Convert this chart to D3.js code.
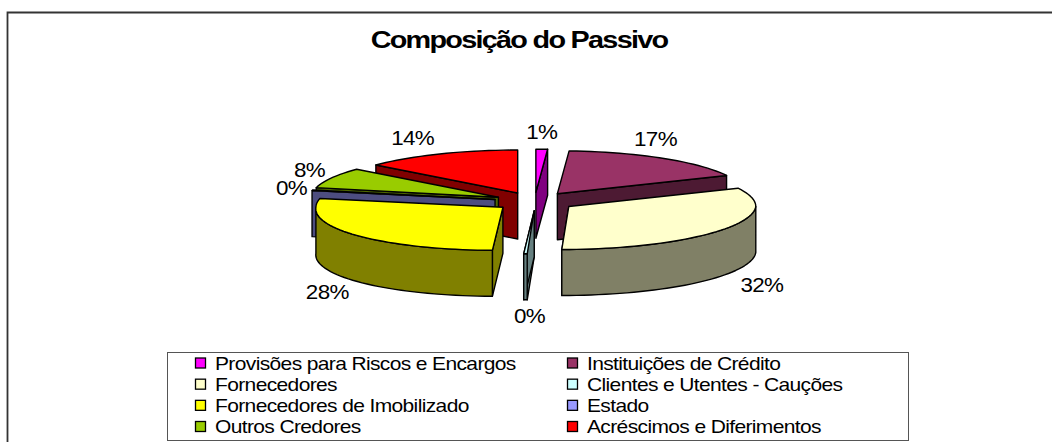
<!DOCTYPE html>
<html><head><meta charset="utf-8">
<script src="https://cdn.jsdelivr.net/npm/d3@7/dist/d3.min.js"></script>
<style>html,body{margin:0;padding:0;background:#fff}svg{display:block}text{font-family:"Liberation Sans",Arial,sans-serif;fill:#000}</style>
</head><body><svg id="c" width="1052" height="442"></svg>
<script>
const titleText = "Composição do Passivo";
const categories = ["Provisões para Riscos e Encargos","Instituições de Crédito","Fornecedores","Clientes e Utentes - Cauções","Fornecedores de Imobilizado","Estado","Outros Credores","Acréscimos e Diferimentos"];
const values = [1.0,17.0,32.0,0.3,28.0,0.3,7.7,13.7];
const labels = ["1%","17%","32%","0%","28%","0%","8%","14%"];
const topColors = ["#ff00ff","#993366","#ffffcc","#ccffff","#ffff00","#9999ff","#99cc00","#ff0000"];
const drawOrder = [7,0,1,6,5,4,3,2];
// layout only
const W=1052,H=442,cx=534.6,cy=201.5,rx=187,ry=43,depth=46,explode=0.2166,shear=7;
const labelNudge=[[0,-15],[-7,-18],[39,11],[4,18],[-25,14],[-21,-1],[-22,-6],[-27,-14]];

const svg=d3.select("#c");
svg.append("path").attr("d",`M7.5 442V12.5H1052`).attr("fill","none").attr("stroke","#333").attr("stroke-width",1.8);
svg.append("text").attr("transform","translate(519,48) scale(1.2,1)").attr("text-anchor","middle").attr("font-size",24).attr("font-weight","bold").attr("letter-spacing",-1.43).text(titleText);

const arcs=d3.pie().value(d=>d).sort(null)(values);
const darken=c=>{const k=d3.rgb(c);return d3.rgb(k.r*.5,k.g*.5,k.b*.5).formatHex()};
arcs.forEach(a=>{const m=(a.startAngle+a.endAngle)/2;
  a.mid=m;a.ax=cx+explode*rx*Math.sin(m);a.ay=cy-explode*ry*Math.cos(m);});
const pt=(a,t)=>{const c=Math.cos(t);return [a.ax+rx*Math.sin(t)+shear*Math.min(0,c),a.ay-ry*c]};
const samples=(t0,t1)=>{const n=Math.max(2,Math.ceil((t1-t0)/0.04));return d3.range(n+1).map(i=>t0+(t1-t0)*i/n)};
const line=d3.line();
const down=p=>[p[0],p[1]+depth];
const sty=(s,fill)=>s.attr("fill",fill).attr("stroke","#000").attr("stroke-width",1.4).attr("stroke-linejoin","round");

drawOrder.forEach(i=>{const a=arcs[i],col=topColors[i],wall=darken(col),g=svg.append("g");
  const apex=[a.ax,a.ay];
  const face=t=>{const p=pt(a,t);sty(g.append("path").attr("d",line([apex,p,down(p),down(apex)])+"Z"),wall)};
  if(i===3){face(a.startAngle);face(a.endAngle);}
  else if(a.mid>Math.PI) face(a.startAngle); else face(a.endAngle);
  const f0=Math.max(a.startAngle,Math.PI/2),f1=Math.min(a.endAngle,1.5*Math.PI);
  if(f1>f0){const top=samples(f0,f1).map(t=>pt(a,t));
    sty(g.append("path").attr("d",line(top.concat(top.map(down).reverse()))+"Z"),wall);}
  const rim=samples(a.startAngle,a.endAngle).map(t=>pt(a,t));
  sty(g.append("path").attr("d",line([apex].concat(rim))+"Z"),col);
});

arcs.forEach((a,i)=>{const p=pt(a,a.mid),front=Math.cos(a.mid)<0,[dx,dy]=labelNudge[i];
  svg.append("text").attr("transform",`translate(${p[0]+dx},${p[1]+(front?depth:0)+dy}) scale(1.12,1)`).attr("text-anchor","middle").attr("dominant-baseline","middle")
     .attr("font-size",20).attr("letter-spacing",-0.6).text(labels[i]);});

const legend=svg.append("g");
legend.append("rect").attr("x",167.5).attr("y",352.5).attr("width",741).attr("height",88).attr("fill","#fff").attr("stroke","#555").attr("stroke-width",1);
const colX=d3.scalePoint().domain([0,1]).range([195,567]);
const rowY=d3.scalePoint().domain([0,1,2,3]).range([363.5,427]);
categories.forEach((c,i)=>{const x=colX(i%2),y=rowY(Math.floor(i/2));
  legend.append("rect").attr("x",x+.5).attr("y",y-5.5).attr("width",10).attr("height",10).attr("fill",topColors[i]).attr("stroke","#000").attr("stroke-width",1.3);
  legend.append("text").attr("transform",`translate(${x+20},${y+6}) scale(1.2,1)`).attr("font-size",17.5).attr("letter-spacing",-0.52).text(c);});
</script></body></html>
